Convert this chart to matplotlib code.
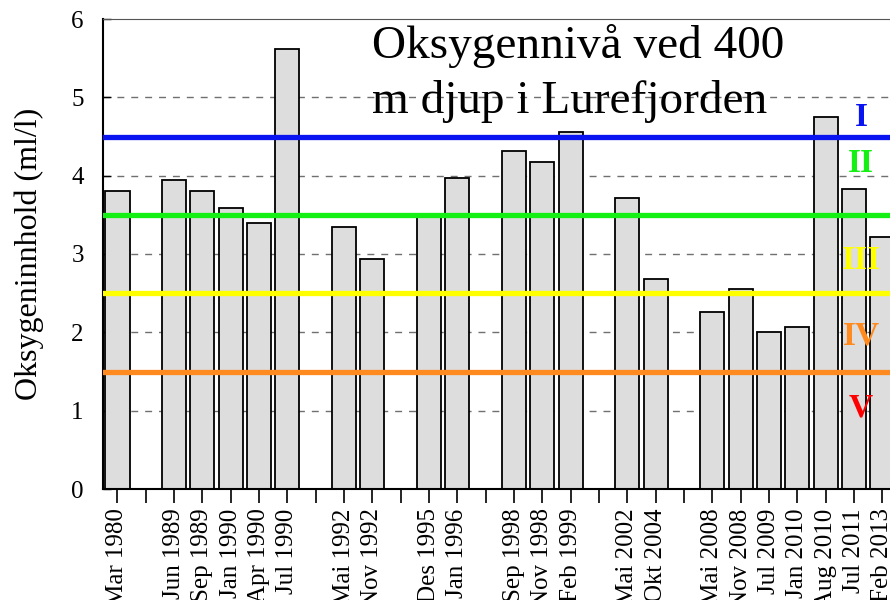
import matplotlib
matplotlib.use('Agg')
import matplotlib.pyplot as plt
import numpy as np

plt.rcParams['font.family'] = ['Liberation Serif', 'DejaVu Serif']

# one slot per label, '' = empty slot (no sampling)
labels = ['Mar 1980', '', 'Jun 1989', 'Sep 1989', 'Jan 1990', 'Apr 1990', 'Jul 1990', '',
          'Mai 1992', 'Nov 1992', '', 'Des 1995', 'Jan 1996', '',
          'Sep 1998', 'Nov 1998', 'Feb 1999', '', 'Mai 2002', 'Okt 2004', '',
          'Mai 2008', 'Nov 2008', 'Jul 2009', 'Jan 2010', 'Aug 2010', 'Jul 2011', 'Feb 2013']
oxygen = [3.81, None, 3.94, 3.80, 3.59, 3.40, 5.62, None,
          3.34, 2.94, None, 3.50, 3.97, None,
          4.32, 4.17, 4.56, None, 3.71, 2.68, None,
          2.26, 2.55, 2.01, 2.07, 4.75, 3.83, 3.22]

# class limits and labels
limits = [4.5, 3.5, 2.5, 1.5]
limit_colors = ['#0A14F0', '#14F014', '#FFFF00', '#FF8A20']
classes = ['I', 'II', 'III', 'IV', 'V']
class_y = [4.74, 4.16, 2.92, 1.95, 1.03]
class_colors = ['#0A14F0', '#14F014', '#FFFF00', '#FF8A20', '#FF0000']

x = np.arange(len(labels))
vals = np.array([np.nan if v is None else v for v in oxygen])

fig = plt.figure(figsize=(8.9, 6), dpi=100)
ax = fig.add_axes([103.3 / 890, 111 / 600, 793.2 / 890, 470 / 600])

ax.set_axisbelow(True)
for g in range(1, 6):
    ax.axhline(g, color='#707070', linestyle=(0, (5, 5)), linewidth=1.0, zorder=0)

ax.bar(x, vals, width=0.85, color='#DDDDDD', edgecolor='black', linewidth=1.3, zorder=2)

for lv, c in zip(limits, limit_colors):
    ax.axhline(lv, color=c, linewidth=3.8, zorder=3)

for name, yv, c in zip(classes, class_y, class_colors):
    ax.text(26.25, yv, name, color=c, fontsize=24, fontweight='bold',
            ha='center', va='center', zorder=4)

ax.text(8.98, 5.50, 'Oksygennivå ved 400', fontsize=34,
        ha='left', va='baseline', zorder=4)
ax.text(8.98, 4.80, 'm djup i Lurefjorden', fontsize=34,
        ha='left', va='baseline', zorder=4)

ax.set_xlim(-0.5, len(labels) - 0.5)
ax.set_ylim(0, 6)
ax.set_xticks(x)
ax.set_xticklabels(labels, rotation=90, fontsize=18)
ax.set_yticks(range(0, 7))
ax.tick_params(axis='x', direction='out', length=10, width=1.2, pad=4)
ax.tick_params(axis='y', direction='in', length=6, width=1.0, labelsize=18, pad=14)
ax.set_ylabel('Oksygeninnhold (ml/l)', fontsize=23, labelpad=20)

ax.spines['left'].set_linewidth(1.5)
ax.spines['bottom'].set_linewidth(1.5)
ax.spines['top'].set_linewidth(0.8)
ax.spines['top'].set_color('#555555')
ax.spines['right'].set_visible(False)

fig.savefig('out.png', dpi=100)
